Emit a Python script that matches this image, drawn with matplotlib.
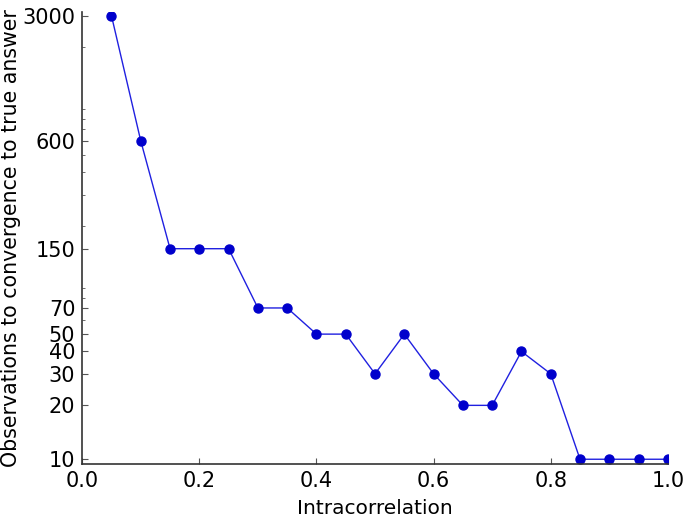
import numpy as np
import matplotlib
matplotlib.use('Agg')
import matplotlib.pyplot as plt
from matplotlib.ticker import FixedLocator, FixedFormatter, LogLocator, NullFormatter

# データ
intracorr = [0.05, 0.10, 0.15, 0.20, 0.25, 0.30, 0.35, 0.40, 0.45, 0.50,
             0.55, 0.60, 0.65, 0.70, 0.75, 0.80, 0.85, 0.90, 0.95, 1.00]
observations = [3000, 600, 150, 150, 150, 70, 70, 50, 50, 30,
                50, 30, 20, 20, 40, 30, 10, 10, 10, 10]
ytick_vals = [10, 20, 30, 40, 50, 70, 150, 600, 3000]
xtick_vals = [0.0, 0.2, 0.4, 0.6, 0.8, 1.0]

fig = plt.figure(figsize=(6.85, 5.22), dpi=100)
ax = fig.add_axes([0.120, 0.111, 0.855, 0.866])

ax.plot(intracorr, observations, color='#2020e0', linewidth=1.0,
        marker='o', markersize=6.5, markerfacecolor='#0000cc', markeredgecolor='#0000cc')

ax.set_yscale('log')
ax.set_xlim(0, 1.0)
ax.set_ylim(9.4, 3150)

ax.yaxis.set_major_locator(FixedLocator(ytick_vals))
ax.yaxis.set_major_formatter(FixedFormatter([str(v) for v in ytick_vals]))
ax.yaxis.set_minor_locator(LogLocator(base=10, subs=np.arange(2, 10)))
ax.yaxis.set_minor_formatter(NullFormatter())
ax.set_xticks(xtick_vals)
ax.set_xticklabels([f'{v:.1f}' for v in xtick_vals])

for side in ['top', 'right']:
    ax.spines[side].set_visible(False)
for side in ['left', 'bottom']:
    ax.spines[side].set_color('#333333')
    ax.spines[side].set_linewidth(1.2)

ax.tick_params(which='major', direction='in', length=4, width=0.8, color='#555555',
               labelsize=15, pad=5, top=False, right=False)
ax.tick_params(which='minor', direction='in', length=2, width=0.6, color='#555555',
               top=False, right=False)

ax.set_xlabel('Intracorrelation', fontsize=14.5, labelpad=6)
ax.set_ylabel('Observations to convergence to true answer', fontsize=14.8, labelpad=1)

fig.savefig('out.png', dpi=100)
